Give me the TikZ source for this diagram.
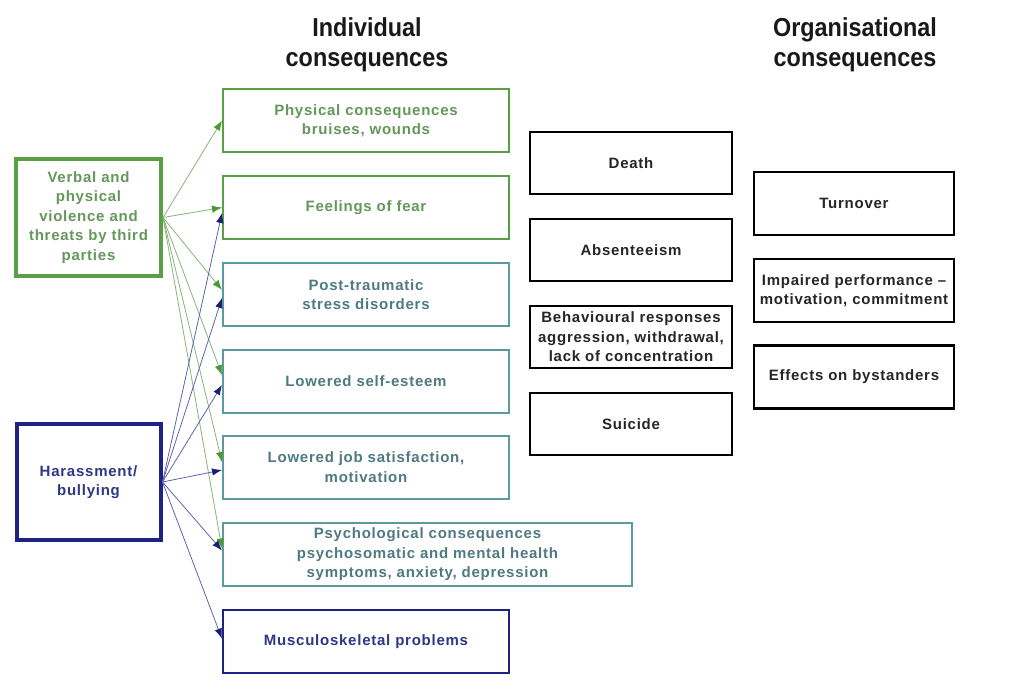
\documentclass[tikz,border=0pt]{standalone}
\usepackage{fontspec}
\setmainfont{Liberation Sans}
\newfontfamily\headfont[FakeStretch=0.9]{Liberation Sans}
\newfontfamily\boxfont[LetterSpace=5]{Liberation Sans}
\usetikzlibrary{arrows.meta}

\definecolor{grnline}{HTML}{5A9E46}
\definecolor{grntext}{HTML}{64985A}
\definecolor{tealline}{HTML}{5C9A9E}
\definecolor{tealtext}{HTML}{4E7A82}
\definecolor{navyline}{HTML}{1E2282}
\definecolor{navytext}{HTML}{2E3884}
\definecolor{grnarrow}{HTML}{88B47A}
\definecolor{grntip}{HTML}{4A9A30}
\definecolor{bluarrow}{HTML}{6064B0}
\definecolor{blutip}{HTML}{1A2070}

\tikzset{
  box/.style={draw, rectangle, align=center, inner sep=2pt,
    font=\boxfont\bfseries\fontsize{15}{19.5}\selectfont},
  stdbox/.style={box, minimum width=286pt, minimum height=63pt},
  greenbox/.style={stdbox, draw=grnline, line width=2pt, text=grntext},
  tealbox/.style={stdbox, draw=tealline, line width=2pt, text=tealtext},
  navybox/.style={stdbox, draw=navyline, line width=2.2pt, text=navytext},
  blackbox/.style={box, draw=black, line width=2.4pt, text=black!85,
    minimum width=202pt, minimum height=62pt},
  orgbox/.style={box, draw=black, line width=2.4pt, text=black!85,
    minimum width=200pt, minimum height=63pt},
  srcgreen/.style={box, draw=grnline, line width=4pt, text=grntext,
    minimum width=145pt, minimum height=117pt},
  srcnavy/.style={box, draw=navyline, line width=4pt, text=navytext,
    minimum width=144pt, minimum height=116pt},
  heading/.style={align=center, font=\headfont\bfseries\fontsize{26}{30}\selectfont,
    text=black!90},
  garrow/.style={draw=grnarrow, line width=0.8pt,
    -{Latex[length=10pt,width=7.5pt,color=grntip]}},
  barrow/.style={draw=bluarrow, line width=0.8pt,
    -{Latex[length=10pt,width=7.5pt,color=blutip]}}
}

\begin{document}
\begin{tikzpicture}[x=1pt,y=-1pt]
\useasboundingbox[fill=white] (0,0) rectangle (1011,688);

% column headings
\node[heading] (hind) at (367,45) {Individual\\consequences};
\node[heading] (horg) at (855,45) {Organisational\\consequences};

% sources
\node[srcgreen] (verbal) at (88.5,217.5) {Verbal and\\physical\\violence and\\threats by third\\parties};
\node[srcnavy] (harass) at (88.5,482) {Harassment/\\bullying};

% individual consequences
\node[greenbox] (phys)  at (366,120.5) {Physical consequences\\bruises, wounds};
\node[greenbox] (fear)  at (366,207.5) {Feelings of fear};
\node[tealbox]  (ptsd)  at (366,294.5) {Post-traumatic\\stress disorders};
\node[tealbox]  (self)  at (366,381)   {Lowered self-esteem};
\node[tealbox]  (job)   at (366,467)   {Lowered job satisfaction,\\motivation};
\node[tealbox, minimum width=409pt] (psych) at (427.5,554.5)
  {Psychological consequences\\psychosomatic and mental health\\symptoms, anxiety, depression};
\node[navybox]  (musc)  at (366,641.5) {Musculoskeletal problems};

% further individual consequences
\node[blackbox] (death)  at (631,163) {Death};
\node[blackbox] (absent) at (631,250) {Absenteeism};
\node[blackbox] (behav)  at (631,337) {Behavioural responses\\aggression, withdrawal,\\lack of concentration};
\node[blackbox] (suic)   at (631,424) {Suicide};

% organisational consequences
\node[orgbox] (turn) at (854,203.5) {Turnover};
\node[orgbox] (perf) at (854,290.5) {Impaired performance –\\motivation, commitment};
\node[orgbox] (bys)  at (854,377)   {Effects on bystanders};

% links from violence by third parties
\draw[garrow] (verbal.east) -- (phys.west);
\draw[garrow] (verbal.east) -- (fear.west);
\draw[garrow] (verbal.east) -- ([yshift=4.5pt]ptsd.west);
\draw[garrow] (verbal.east) -- ([yshift=6pt]self.west);
\draw[garrow] (verbal.east) -- ([yshift=5pt]job.west);
\draw[garrow] (verbal.east) -- ([yshift=6pt]psych.west);

% links from harassment
\draw[barrow] (harass.east) -- ([yshift=-5.5pt]fear.west);
\draw[barrow] (harass.east) -- ([yshift=-3.5pt]ptsd.west);
\draw[barrow] (harass.east) -- ([yshift=-4pt]self.west);
\draw[barrow] (harass.east) -- ([yshift=-3pt]job.west);
\draw[barrow] (harass.east) -- ([yshift=4pt]psych.west);
\draw[barrow] (harass.east) -- ([yshift=3pt]musc.west);
\end{tikzpicture}
\end{document}
